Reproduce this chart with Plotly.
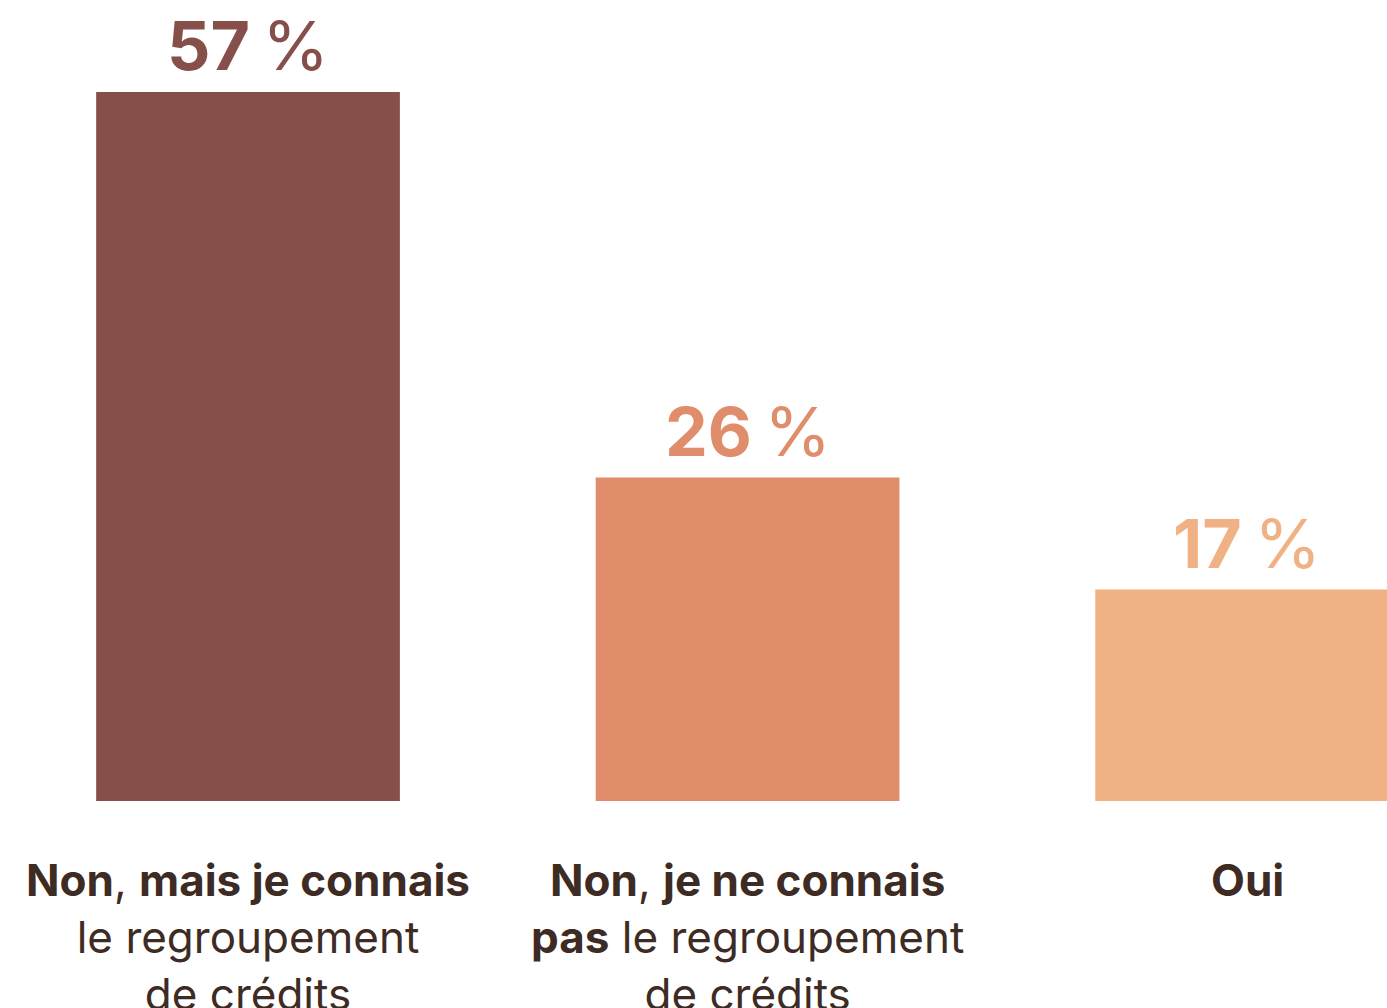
import plotly.graph_objects as go

categories = [
    "<b>Non</b>, <b>mais je connais</b><br>le regroupement<br>de crédits",
    "<b>Non</b>, <b>je ne connais</b><br><b>pas</b> le regroupement<br>de crédits",
    "<b>Oui</b>",
]
values = [57, 26, 17]
value_labels = ["57", "26", "17"]
colors = ["#864F4A", "#E08D6C", "#F0B284"]
text_color = "#3E2B23"
FONT = "Inter"

x = list(range(len(values)))

fig = go.Figure()
fig.add_trace(go.Bar(
    x=x, y=values, width=0.608,
    marker=dict(color=colors, line=dict(width=0)),
    hoverinfo="skip",
))

for i, v in enumerate(values):
    fig.add_annotation(
        x=i, y=v, xref="x", yref="y",
        text=f"<b>{value_labels[i]}</b>\u202f%",
        showarrow=False, yanchor="bottom", yshift=4,
        font=dict(family=FONT, size=68, color=colors[i]),
    )
    fig.add_annotation(
        x=i, y=0, xref="x", yref="y",
        text=categories[i],
        showarrow=False, yanchor="top", yshift=-50,
        align="center",
        font=dict(family=FONT, size=44, color=text_color),
    )

fig.update_layout(
    width=1387, height=1008,
    margin=dict(l=0, r=0, t=0, b=207),
    paper_bgcolor="white", plot_bgcolor="white",
    showlegend=False,
    xaxis=dict(range=[-0.4965, 2.28], visible=False, fixedrange=True),
    yaxis=dict(range=[0, 64.4], visible=False, fixedrange=True),
)

fig.write_html(
    "out.html",
    config={"displayModeBar": False},
    post_script="document.body.style.margin='0';document.body.style.overflow='hidden';",
)
